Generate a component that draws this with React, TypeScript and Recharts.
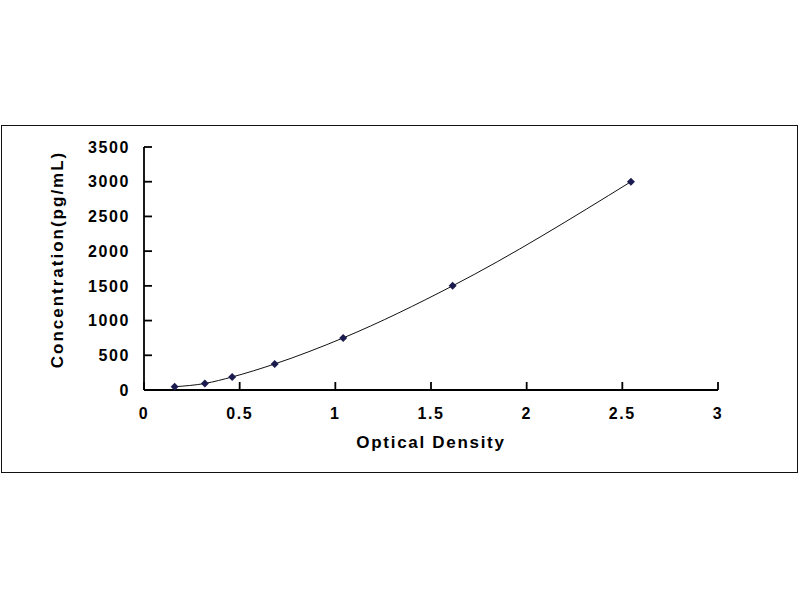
import { LineChart, Line, XAxis, YAxis } from 'recharts';

// standard curve
const opticalDensity = [0.16, 0.318, 0.461, 0.683, 1.041, 1.613, 2.545];
const concentration = [47, 94, 188, 375, 750, 1500, 3000];
const xTicks = [0, 0.5, 1, 1.5, 2, 2.5, 3];
const yTicks = [0, 500, 1000, 1500, 2000, 2500, 3000, 3500];

const data = opticalDensity.map((od, i) => ({ od, conc: concentration[i] }));

const FONT = '"Liberation Sans", Arial, sans-serif';
const tickStyle = { fill: '#000', fontSize: 16, fontWeight: 'bold', fontFamily: FONT, letterSpacing: 1.6 };

const Diamond = (props: any) => {
  const { cx, cy } = props;
  if (cx == null || cy == null) return null;
  const r = 4;
  return (
    <path
      d={`M${cx},${cy - r}L${cx + r},${cy}L${cx},${cy + r}L${cx - r},${cy}Z`}
      fill="#1b1b4f"
      stroke="none"
    />
  );
};

const YTitle = (props: any) => {
  const vb = props.viewBox || {};
  const x = vb.x + 57;
  const y = vb.y + vb.height / 2 - 9;
  return (
    <text
      x={x}
      y={y}
      transform={`rotate(-90, ${x}, ${y})`}
      textAnchor="middle"
      dominantBaseline="central"
      fill="#000"
      fontSize={17}
      fontWeight="bold"
      fontFamily={FONT}
      letterSpacing={2}
    >
      Concentration(pg/mL)
    </text>
  );
};

const XTitle = (props: any) => {
  const vb = props.viewBox || {};
  return (
    <text
      x={vb.x + vb.width / 2}
      y={vb.y + 58}
      textAnchor="middle"
      fill="#000"
      fontSize={17}
      fontWeight="bold"
      fontFamily={FONT}
      letterSpacing={1.7}
    >
      Optical Density
    </text>
  );
};

export default function App() {
  return (
    <div style={{ position: 'relative', width: 800, height: 600, background: '#fff' }}>
      <style>{'body{margin:0}'}</style>
      <div
        style={{
          position: 'absolute',
          left: 1,
          top: 125,
          width: 795,
          height: 346,
          border: '1.5px solid #111',
        }}
      />
      <div style={{ position: 'absolute', left: 0, top: 0 }}>
        <LineChart
          width={800}
          height={600}
          data={data}
          margin={{ top: 147, right: 82, bottom: 150, left: 0 }}
        >
          <XAxis
            dataKey="od"
            type="number"
            domain={[0, 3]}
            ticks={xTicks}
            height={60}
            tickSize={-8}
            tickMargin={26}
            tick={tickStyle}
            axisLine={{ stroke: '#000', strokeWidth: 1.8 }}
            tickLine={{ stroke: '#000', strokeWidth: 1.8 }}
            label={XTitle}
          />
          <YAxis
            dataKey="conc"
            type="number"
            domain={[0, 3500]}
            ticks={yTicks}
            width={144}
            tickSize={-8}
            tickMargin={22}
            tick={tickStyle}
            axisLine={{ stroke: '#000', strokeWidth: 1.8 }}
            tickLine={{ stroke: '#000', strokeWidth: 1.8 }}
            label={YTitle}
          />
          <Line
            type="monotone"
            dataKey="conc"
            stroke="#111"
            strokeWidth={1}
            dot={Diamond}
            activeDot={false}
            isAnimationActive={false}
          />
        </LineChart>
      </div>
    </div>
  );
}
